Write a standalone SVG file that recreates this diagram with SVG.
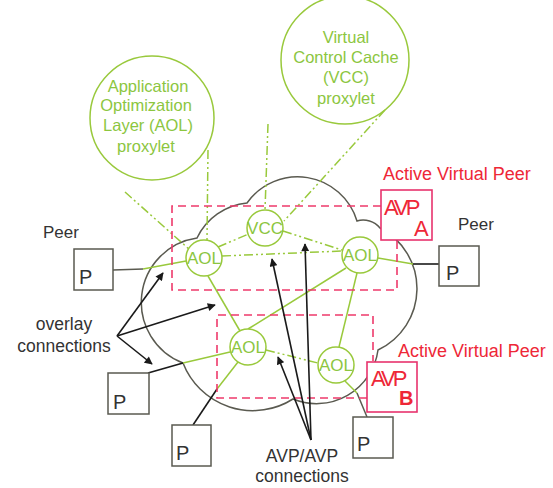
<svg xmlns="http://www.w3.org/2000/svg" width="553" height="488" viewBox="0 0 553 488">
<defs>
<style>
.g{fill:none;stroke:#99c93c;stroke-width:1.5}
.gd{fill:none;stroke:#99c93c;stroke-width:1.5;stroke-dasharray:9 3 2 3 2 3}
.k{fill:none;stroke:#1a1a1a;stroke-width:1.6}
.gr{fill:none;stroke:#5a5a50;stroke-width:1.5}
.box{fill:#fff;stroke:#5a5a50;stroke-width:1.5}
.avp{fill:#fff;stroke:#e8336d;stroke-width:1.6}
.dr{fill:none;stroke:#ee3a6b;stroke-width:1.6;stroke-dasharray:8 5}
.node{fill:#fff;stroke:#99c93c;stroke-width:1.5}
.gt{font-family:"Liberation Sans",Arial,sans-serif;fill:#8cc63f;text-anchor:middle}
.kt{font-family:"Liberation Sans",Arial,sans-serif;fill:#333;}
.rt{font-family:"Liberation Sans",Arial,sans-serif;fill:#ee2737;}
</style>
<marker id="ah" viewBox="0 0 10 10" refX="9" refY="5" markerWidth="9" markerHeight="8" markerUnits="userSpaceOnUse" orient="auto"><path d="M0,0 L10,5 L0,10 z" fill="#1a1a1a"/></marker>
</defs>
<rect width="553" height="488" fill="#fff"/>

<g id="proxylet-aol">
<circle cx="152" cy="118" r="62" fill="none" stroke="#99c93c" stroke-width="1.5"/>
<text class="gt" font-size="16.5" x="148" y="92">Application</text>
<text class="gt" font-size="16.5" x="146" y="111">Optimization</text>
<text class="gt" font-size="16.5" x="148" y="131">Layer (AOL)</text>
<text class="gt" font-size="16.5" x="146" y="152">proxylet</text>
</g>
<g id="proxylet-vcc">
<circle cx="345" cy="60" r="64" fill="none" stroke="#99c93c" stroke-width="1.5"/>
<text class="gt" font-size="16.5" x="346" y="43">Virtual</text>
<text class="gt" font-size="16.5" x="346" y="63">Control Cache</text>
<text class="gt" font-size="16.5" x="346" y="83">(VCC)</text>
<text class="gt" font-size="16.5" x="346" y="104">proxylet</text>
</g>

<g id="cloud">
<path class="gr" d="M197,238 A65,65 0 0 0 183,363 A75,75 0 0 0 293,399 A62,62 0 0 0 378,350 A68,68 0 0 0 380,228 A22,22 0 0 0 357,221 A62,62 0 0 0 247,203 A62,62 0 0 0 197,238 Z"/>
</g>

<g id="connectors">
<line class="gd" x1="208" y1="150" x2="207" y2="240"/>
<line class="gd" x1="125" y1="192" x2="190" y2="250"/>
<line class="gd" x1="268" y1="124" x2="265" y2="210"/>
<line class="gd" x1="385" y1="110" x2="284" y2="221"/>
<line class="gd" x1="218" y1="247" x2="251" y2="233"/>
<line class="gd" x1="222" y1="256" x2="342" y2="251"/>
<line class="gd" x1="283" y1="231" x2="342" y2="250"/>
<line class="gd" x1="266" y1="350" x2="318" y2="363"/>
<line class="g" x1="143" y1="269" x2="186" y2="261"/>
<line class="g" x1="208" y1="276" x2="240" y2="331"/>
<line class="g" x1="248" y1="329" x2="346" y2="268"/>
<line class="g" x1="357" y1="273" x2="339" y2="347"/>
<line class="g" x1="183" y1="363" x2="230" y2="352"/>
<line class="g" x1="217" y1="389" x2="238" y2="362"/>
<line class="g" x1="378" y1="258" x2="413" y2="264"/>
<line class="g" x1="345" y1="381" x2="357" y2="393"/>
<line class="gr" x1="113" y1="270" x2="143" y2="269"/>
<line class="k" stroke-width="1.3" x1="148" y1="373" x2="183" y2="363"/>
<line class="k" stroke-width="1.3" x1="193" y1="425" x2="217" y2="389"/>
<line class="k" stroke-width="1.3" x1="413" y1="264" x2="439" y2="264"/>
<line class="gr" x1="357" y1="393" x2="367" y2="417"/>
<path class="dr" d="M381,206 H172 V290 H397 V240"/>
<path class="dr" d="M367,398 H217 V315 H373 V361"/>
<line class="k" x1="117" y1="336" x2="163" y2="273" marker-end="url(#ah)"/>
<line class="k" x1="117" y1="336" x2="152" y2="364" marker-end="url(#ah)"/>
<line class="k" x1="117" y1="336" x2="215" y2="305" marker-end="url(#ah)"/>
<line class="k" x1="311" y1="440" x2="272" y2="259" marker-end="url(#ah)"/>
<line class="k" x1="311" y1="440" x2="305" y2="244" marker-end="url(#ah)"/>
<line class="k" x1="311" y1="440" x2="278" y2="357" marker-end="url(#ah)"/>
</g>

<g id="aol1"><circle class="node" cx="204" cy="258" r="18"/><text class="gt" font-size="17" x="204" y="264">AOL</text></g>
<g id="vcc"><circle class="node" cx="265" cy="228" r="18"/><text class="gt" font-size="17" x="265" y="234">VCC</text></g>
<g id="aol2"><circle class="node" cx="360" cy="255" r="18"/><text class="gt" font-size="17" x="360" y="261">AOL</text></g>
<g id="aol3"><circle class="node" cx="248" cy="347" r="18"/><text class="gt" font-size="17" x="248" y="353">AOL</text></g>
<g id="aol4"><circle class="node" cx="336" cy="365" r="18"/><text class="gt" font-size="17" x="336" y="371">AOL</text></g>

<g id="avp-a">
<rect class="avp" x="381" y="190" width="51" height="50"/>
<text class="rt" font-size="22" x="384" y="215" letter-spacing="-3">AVP</text>
<text class="rt" font-size="22" x="414" y="236">A</text>
<text class="rt" font-size="18" x="383" y="180">Active Virtual Peer</text>
</g>
<g id="avp-b">
<rect class="avp" x="367" y="362" width="50" height="50"/>
<text class="rt" font-size="22" x="371" y="386" letter-spacing="-3">AVP</text>
<text class="rt" font-size="20" font-weight="bold" x="399" y="405">B</text>
<text class="rt" font-size="18" x="398" y="357">Active Virtual Peer</text>
</g>

<g id="peer1"><rect class="box" x="74" y="249" width="39" height="41"/><text class="kt" font-size="20" x="79" y="284">P</text><text class="kt" font-size="17" x="43" y="238">Peer</text></g>
<g id="peer2"><rect class="box" x="439" y="246" width="40" height="40"/><text class="kt" font-size="20" x="446" y="280">P</text><text class="kt" font-size="17" x="458" y="230">Peer</text></g>
<g id="peer3"><rect class="box" x="108" y="373" width="41" height="41"/><text class="kt" font-size="20" x="113" y="409">P</text></g>
<g id="peer4"><rect class="box" x="172" y="425" width="39" height="41"/><text class="kt" font-size="20" x="176" y="460">P</text></g>
<g id="peer5"><rect class="box" x="353" y="417" width="40" height="41"/><text class="kt" font-size="20" x="357" y="451">P</text></g>

<g id="labels">
<text class="kt" font-size="17.5" x="64" y="330" text-anchor="middle">overlay</text>
<text class="kt" font-size="17.5" x="64" y="352" text-anchor="middle">connections</text>
<text class="kt" font-size="17.5" x="302" y="462" text-anchor="middle">AVP/AVP</text>
<text class="kt" font-size="17.5" x="302" y="482" text-anchor="middle">connections</text>
</g>
</svg>
